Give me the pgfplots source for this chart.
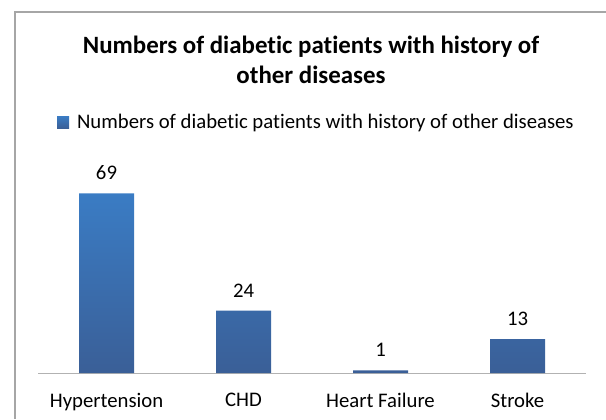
\documentclass[border=0pt]{standalone}
\usepackage{pgfplots}
\pgfplotsset{compat=1.18}
\usepackage{fontspec}
\setmainfont{Carlito}[Ligatures={NoCommon}]
\definecolor{bartop}{HTML}{3A7CC4}
\definecolor{barbot}{HTML}{3A5F97}
\definecolor{barleg}{HTML}{3B70B6}
\definecolor{framegray}{HTML}{A6A6A6}

\begin{document}
\begin{tikzpicture}[x=1bp,y=1bp]
\useasboundingbox (-38,-46) rectangle (568,373);
% chart frame, cropped on the right and at the bottom
\draw[framegray, line width=1.2bp] (-23,-46) -- (-23,361) -- (568,361);
\begin{axis}[
  at={(0,0)}, anchor=south west,
  scale only axis,
  width=548bp, height=203bp,
  xmin=-0.5, xmax=3.5,
  ymin=0, ymax=78,
  axis x line*=bottom,
  axis y line=none,
  x axis line style={draw=black!30, line width=0.8bp, -},
  xtick=data,
  xticklabels={Hypertension, CHD, Heart Failure, Stroke},
  xtick style={draw=none},
  xticklabel style={font=\fontsize{20.8}{24}\selectfont, yshift=-12bp},
  ytick=\empty,
  ybar, bar width=55bp,
  nodes near coords,
  every node near coord/.append style={font=\fontsize{20.8}{24}\selectfont,
    yshift=10bp, black, /pgf/number format/assume math mode=true},
  legend style={at={(0.508,1.236)}, anchor=center, draw=none, fill=none,
                font=\fontsize{20.8}{24}\selectfont,
                /tikz/every odd column/.append style={column sep=6bp}},
  legend image code/.code={\fill[barleg] (0bp,-6bp) rectangle (12bp,6bp);},
  clip=false,
]
\addplot[draw=none, top color=bartop, bottom color=barbot] coordinates {
  (0,69) (1,24) (2,1) (3,13)
};
\legend{Numbers of diabetic patients with history of other diseases}
\end{axis}
\node[font=\fontsize{25}{30}\selectfont\bfseries, align=center] at (273,313)
  {Numbers of diabetic patients with history of\\other diseases};
\end{tikzpicture}
\end{document}
